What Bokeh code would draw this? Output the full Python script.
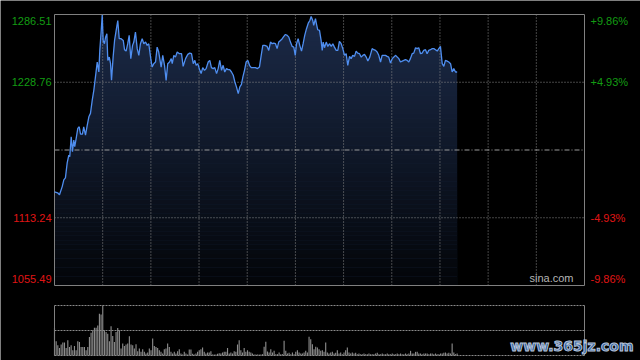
import numpy as np
from bokeh.plotting import figure
from bokeh.models import Range1d, Label
from bokeh.embed import file_html
from bokeh.resources import INLINE

# ---------------- data ----------------
prev_close = 1171.00
price_top = 1286.51
price_bottom = 1055.49
left_ticks = [1286.51, 1228.76, 1113.24, 1055.49]
right_ticks = ["+9.86%", "+4.93%", "-4.93%", "-9.86%"]
session_minutes = 330          # 09:30-12:00, 13:00-16:00
time_grid = [30, 60, 90, 120, 150, 180, 210, 240, 270, 300]

minutes = [
    0, 1.9, 3.1, 4.8, 5.8, 6.8, 7.9, 8.9, 9.5, 10.4, 11.2, 12.0, 12.6, 13.5, 14.5,
    15.4, 16.2, 17.4, 18.2, 19.3, 20.4, 21.4, 22.4, 23.5, 24.5, 25.5, 26.6, 27.6, 28.2, 29.1,
    29.7, 30.3, 31.1, 31.8, 32.6, 33.2, 34.1, 34.9, 35.5, 36.5, 37.4, 38.4, 39.4, 40.3, 41.5,
    42.8, 43.6, 44.6, 45.6, 46.5, 47.5, 48.6, 49.4, 50.4, 51.5, 52.5, 53.5, 54.6, 55.6, 56.7,
    57.7, 58.7, 59.8, 60.8, 61.8, 62.9, 63.9, 64.9,
    66.4, 67.4, 68.5, 69.5, 70.5, 71.6, 72.7, 73.3, 74.3, 75.3, 76.4, 77.8, 79.1, 80.1, 81.6,
    83.0, 84.2, 85.3, 86.4, 87.4, 88.2, 89.2, 90.5, 91.3, 92.3, 93.4, 94.4, 95.7, 96.7, 97.7,
    98.8, 99.8, 100.9, 101.9, 102.9, 104.0, 105.0, 106.0, 107.1, 108.1, 109.1, 110.2, 111.3,
    112.3, 113.3, 114.4, 115.4, 116.4, 117.3, 118.3, 119.3, 120.4, 121.4, 122.5, 123.7, 125.1,
    126.4, 127.6, 128.7, 129.7, 130.9,
    132.4, 133.4, 134.5, 135.5, 136.5, 137.6, 138.6, 139.6, 140.7, 141.8, 142.8, 143.8, 144.9,
    145.9, 146.9, 148.0, 149.0, 149.9, 150.7, 151.7, 152.7, 153.8, 154.8, 155.8, 156.9, 158.0,
    159.0, 159.8, 160.8, 161.4, 162.5, 163.1, 163.9, 165.0, 166.0, 166.7, 167.3, 168.1, 169.2,
    170.2, 171.2, 172.3, 173.3, 174.3, 175.4, 176.4, 177.4, 178.5, 179.5, 180.6, 181.6, 182.6,
    183.7, 184.7, 185.7, 186.8, 187.8, 188.8, 189.9, 191.0, 192.0, 193.0, 194.1, 195.1, 196.3,
    197.8, 198.8, 199.9, 200.9, 201.9, 203.0, 204.0, 205.0, 206.1, 207.1, 208.1, 209.2, 210.3,
    211.3, 212.3, 213.4, 214.4, 215.4, 216.5, 217.5, 218.5, 219.6, 220.6, 221.6, 222.7, 223.7,
    224.8, 225.8, 226.8, 227.9, 228.9, 229.9, 231.0, 232.0, 233.0, 234.1, 235.2, 236.2, 237.2,
    238.3, 239.3, 240.3, 241.4, 242.4, 243.4, 244.5, 245.5, 246.6, 247.6, 248.6, 249.7, 250.7,
]

prices = [
    1135.3, 1134.5, 1132.8, 1139.8, 1145.5, 1147.2, 1160.0, 1166.7, 1165.3, 1182.3, 1169.5,
    1179.5, 1173.8, 1180.9, 1189.4, 1190.8, 1184.6, 1184.6, 1190.8, 1183.7, 1192.2, 1199.3,
    1202.2, 1213.5, 1222.0, 1233.3, 1246.0, 1237.5, 1255.9, 1272.9, 1286.0, 1264.4, 1261.6,
    1267.2, 1270.1, 1247.4, 1250.2, 1244.6, 1230.4, 1250.2, 1264.4, 1272.9, 1281.4, 1265.9,
    1265.9, 1264.4, 1256.5, 1255.3, 1261.6, 1268.7, 1248.9, 1260.2, 1263.0, 1271.5, 1257.4,
    1251.7, 1261.6, 1265.9, 1261.6, 1263.0, 1260.2, 1261.6, 1250.2, 1241.7, 1244.6, 1246.0,
    1258.7, 1254.5,
    1241.7, 1251.7, 1243.2, 1230.4, 1244.6, 1246.0, 1248.9, 1244.6, 1251.7, 1250.2, 1254.5,
    1253.1, 1253.1, 1242.3, 1248.9, 1252.5, 1253.6, 1253.1, 1244.6, 1247.4, 1243.2, 1244.6,
    1238.9, 1236.1, 1241.2, 1238.9, 1240.4, 1246.0, 1247.4, 1241.2, 1240.4, 1241.2, 1236.1,
    1240.4, 1247.4, 1238.9, 1243.2, 1237.5, 1240.4, 1239.5, 1239.5, 1237.5, 1234.7, 1229.0,
    1224.8, 1219.1, 1224.8, 1227.0, 1233.3, 1238.9, 1246.0, 1247.4, 1243.2, 1241.2, 1241.2,
    1241.2, 1240.4, 1241.7, 1251.7, 1260.2, 1260.2,
    1259.3, 1255.9, 1263.0, 1261.6, 1262.1, 1261.6, 1257.4, 1263.0, 1264.4, 1265.9, 1267.8,
    1269.5, 1268.7, 1267.2, 1263.0, 1259.3, 1258.7, 1251.7, 1261.6, 1265.9, 1260.2, 1255.3,
    1261.6, 1268.7, 1274.4, 1279.1, 1281.4, 1284.8, 1281.4, 1277.2, 1282.9, 1278.6, 1273.5,
    1272.9, 1264.4, 1255.9, 1263.0, 1258.2, 1263.0, 1259.3, 1261.6, 1259.3, 1261.6, 1258.7,
    1255.9, 1255.9, 1263.6, 1261.6, 1257.4, 1251.7, 1253.1, 1243.2, 1250.8, 1248.9, 1251.7,
    1250.8, 1255.3, 1253.6, 1253.1, 1250.2, 1251.7, 1252.5, 1250.2, 1246.8, 1250.2,
    1257.4, 1256.5, 1255.9, 1254.5, 1251.7, 1246.0, 1251.7, 1251.7, 1251.7, 1250.8, 1250.2,
    1245.1, 1248.9, 1250.2, 1251.7, 1250.2, 1248.9, 1246.0, 1246.8, 1247.4, 1248.0, 1247.4,
    1246.0, 1248.9, 1253.1, 1253.6, 1258.2, 1257.4, 1258.2, 1253.1, 1253.6, 1255.9, 1256.5,
    1253.1, 1255.9, 1256.5, 1257.4, 1257.4, 1256.5, 1255.3, 1257.4, 1259.3, 1244.6, 1242.3,
    1247.4, 1246.8, 1246.0, 1244.6, 1237.5, 1240.4, 1237.5, 1237.5,
]

volume = [
    54.9, 28.5, 20.5, 15.2, 21.8, 25.8, 25.8, 15.2, 30.5, 17.2, 20.5, 10.6, 19.2, 10.6, 28.5,
    27.1, 17.2, 17.2, 17.2, 10.6, 17.2, 37.1, 45.7, 50.3, 55.6, 55.6, 60.2, 83.4, 82.1, 100.0,
    50.3, 47.0, 43.7, 28.5, 58.3, 39.1, 27.1, 47.0, 54.9, 50.3, 13.9, 23.8, 19.2, 21.8, 23.8,
    38.4, 21.8, 20.5, 13.9, 22.5, 8.6, 13.9, 7.3, 12.6, 7.3, 4.0, 6.0, 13.9, 10.6, 33.8,
    19.2, 17.2, 15.2, 10.6, 7.3, 4.0, 12.6, 13.9, 23.8, 17.2, 7.3, 4.0, 7.3, 4.0, 8.6,
    12.6, 4.0, 2.0, 7.3, 4.0, 2.0, 11.9, 11.9, 3.3, 2.0, 4.0, 7.3, 10.6, 12.6, 15.9,
    7.3, 4.0, 6.0, 6.0, 8.6, 2.0, 2.0, 2.0, 3.3, 4.6, 4.0, 6.0, 7.3, 7.3, 15.2,
    4.0, 6.0, 4.0, 8.6, 7.3, 21.8, 30.5, 10.6, 6.0, 15.2, 7.3, 10.6, 7.3, 6.0, 4.0,
    2.0, 2.0, 2.0, 2.0, 2.0,
    2.7, 17.3, 27.3, 8.0, 6.0, 12.7, 6.0, 9.3, 2.7, 2.7, 6.0, 2.7, 2.7, 29.3, 9.3,
    4.0, 5.3, 2.7, 6.0, 2.7, 7.3, 10.7, 6.0, 4.0,
    4.0, 6.0, 9.3, 6.0, 37.3, 32.7, 22.7, 12.7, 17.3, 16.0, 12.7, 9.3, 10.7, 7.3, 26.0,
    6.0, 4.0, 6.0, 7.3, 4.0, 5.3, 10.7, 4.0, 6.0, 2.7, 6.0, 10.7, 16.0, 6.0, 4.0,
    6.0, 4.0, 5.3, 2.7, 4.0, 2.7, 2.7, 4.0, 2.7, 2.7, 4.0, 2.7, 2.7, 2.7, 4.0,
    5.3, 2.7, 2.7, 4.0, 2.7, 2.7, 4.0, 2.7, 2.7, 4.0, 2.7, 2.7, 4.0, 2.7, 4.0,
    2.7, 2.7, 4.0, 2.7, 4.0, 9.3, 4.0, 4.0, 7.3, 7.3, 4.0, 4.0, 2.7, 4.0, 4.0,
    4.0, 2.7, 4.0, 4.0, 2.7, 4.0, 2.7, 2.7, 4.0, 4.0, 5.3, 6.0, 4.0, 5.3, 4.0,
    24.0, 6.0, 2.7, 4.0,
]
volume_minutes = np.linspace(0, minutes[-1], len(volume))
vol_max = max(volume)

# ---------------- layout (pixels of the 640x360 canvas) ----------------
W, H = 640, 360
CH_L, CH_R = 54, 584          # chart left/right
PR_T, PR_B = 14, 285          # price panel top/bottom
VO_T, VO_B = 305, 355         # volume panel top/bottom

mpp = session_minutes / (CH_R - CH_L)
x_start = -CH_L * mpp
x_end = session_minutes + (W - CH_R) * mpp
ppp = (price_top - price_bottom) / (PR_B - PR_T)
y_start = price_bottom - (H - PR_B) * ppp
y_end = price_top + PR_T * ppp
vpp = vol_max / (VO_B - VO_T)
v_start = -(H - VO_B) * vpp
v_end = vol_max + VO_T * vpp

BG = "#000000"
GRID = "#8a8a8a"
BORDER = "#808080"
GREEN = "#139c13"
RED = "#e01515"
FONT = "Liberation Sans"

p = figure(width=W, height=H, output_backend="svg", toolbar_location=None,
           x_range=Range1d(x_start, x_end), y_range=Range1d(y_start, y_end),
           x_axis_location=None, y_axis_location=None,
           min_border=0, background_fill_color=BG, border_fill_color=BG,
           outline_line_color=None)
p.grid.visible = False
p.extra_y_ranges = {"vol": Range1d(v_start, v_end)}

# ---- price panel ----
p.varea(x=minutes, y1=price_bottom, y2=prices, fill_color="#1c2b49")
edges = np.linspace(price_bottom, price_top, 61)
centers = (edges[:-1] + edges[1:]) / 2
alphas = 0.88 * (1 - (centers - price_bottom) / (price_top - price_bottom))
p.quad(left=0, right=minutes[-1], bottom=edges[:-1], top=edges[1:],
       fill_color="black", fill_alpha=alphas, line_color=None)

# grid
p.segment(x0=time_grid, y0=price_bottom, x1=time_grid, y1=price_top,
          line_color=GRID, line_dash="1 2", line_width=1)
p.segment(x0=0, y0=[left_ticks[1], left_ticks[2]], x1=session_minutes,
          y1=[left_ticks[1], left_ticks[2]], line_color=GRID, line_dash="1 2", line_width=1)
p.segment(x0=0, y0=prev_close, x1=session_minutes, y1=prev_close,
          line_color="#9a9a9a", line_dash="5 2 1 2", line_width=1)
p.quad(left=0, right=session_minutes, bottom=price_bottom, top=price_top,
       fill_color=None, line_color=BORDER, line_width=1)

p.line(minutes, prices, line_color="#4f8ef0", line_width=1.3)

offsets = [-6, 0, 0, 7]
colors = [GREEN, GREEN, RED, RED]
for val, txt, off, col in zip(left_ticks, right_ticks, offsets, colors):
    p.add_layout(Label(x=0, y=val, x_offset=-3, y_offset=off, text=f"{val:.2f}",
                       text_align="right", text_baseline="middle", text_color=col,
                       text_font=FONT, text_font_size="11px"))
    p.add_layout(Label(x=session_minutes, y=val, x_offset=6, y_offset=off, text=txt,
                       text_align="left", text_baseline="middle", text_color=col,
                       text_font=FONT, text_font_size="11px"))

p.add_layout(Label(x=session_minutes, y=price_bottom, x_offset=-11, y_offset=2,
                   text="sina.com", text_align="right", text_baseline="bottom",
                   text_color="#b4b4b4", text_font=FONT, text_font_size="11px"))

# ---- volume panel ----
p.vbar(x=volume_minutes, top=volume, bottom=0, width=0.7,
       fill_color="#8c8c8c", line_color=None, y_range_name="vol")
vgrid = [0, vol_max / 2, vol_max]
p.segment(x0=0, y0=vgrid, x1=session_minutes, y1=vgrid, line_color=GRID,
          line_dash="2 1", line_width=1, y_range_name="vol")
p.segment(x0=[0, session_minutes], y0=0, x1=[0, session_minutes], y1=vol_max,
          line_color=BORDER, line_width=1, y_range_name="vol")

wm_kwargs = dict(x=session_minutes, y=0, x_offset=49, y_offset=2, text="www.365jz.com",
                 y_range_name="vol", text_align="right", text_baseline="bottom",
                 text_color="#2d5e9e", text_font="DejaVu Sans", text_font_size="14px",
                 text_font_style="bold")
try:
    wm = Label(text_outline_color="#b8c4d8", **wm_kwargs)
except Exception:
    wm = Label(**wm_kwargs)
p.add_layout(wm)

open("out.html", "w").write(file_html(p, INLINE))
